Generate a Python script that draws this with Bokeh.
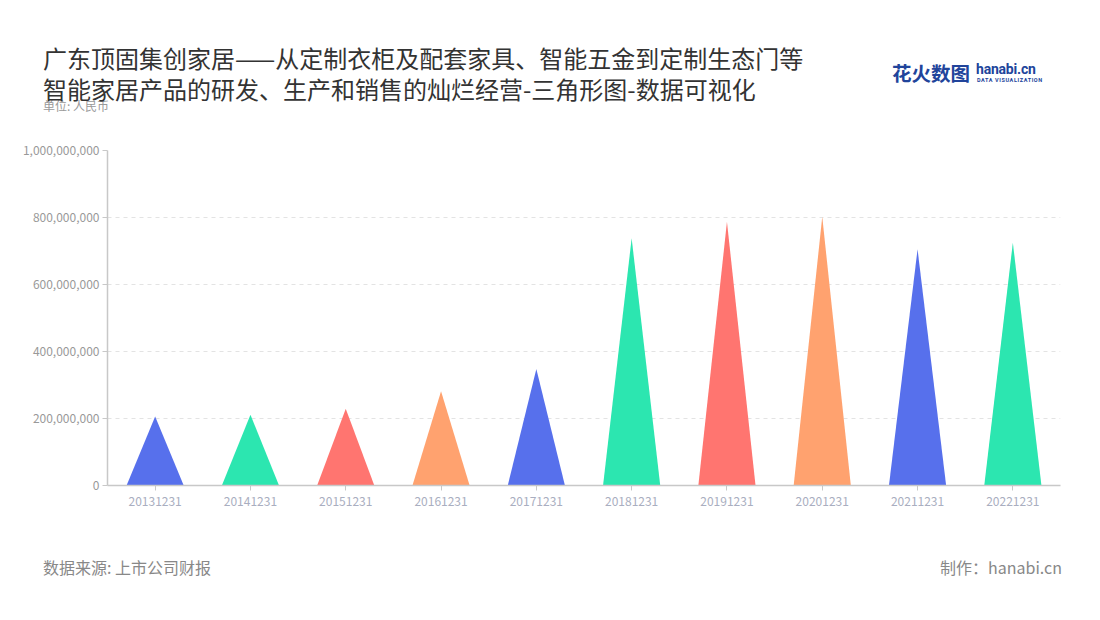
from bokeh.plotting import figure
from bokeh.models import (NumeralTickFormatter, FixedTicker, ColumnDataSource,
                          Range1d, Div)
from bokeh.layouts import column
from bokeh.embed import file_html
from bokeh.resources import INLINE

# report dates and revenue (RMB)
dates = ["20131231", "20141231", "20151231", "20161231", "20171231",
         "20181231", "20191231", "20201231", "20211231", "20221231"]
revenue = [206000000, 211000000, 229000000, 281000000, 348000000,
           738000000, 787000000, 802000000, 705000000, 725000000]
y_ticks = [0, 200000000, 400000000, 600000000, 800000000, 1000000000]
palette = ["#5770ec", "#2ce6b0", "#ff7570", "#ffa26f"]

title_1 = "广东顶固集创家居——从定制衣柜及配套家具、智能五金到定制生态门等"
title_2 = "智能家居产品的研发、生产和销售的灿烂经营-三角形图-数据可视化"
unit_txt = "单位: 人民币"
source_txt = "数据来源: 上市公司财报"
credit_txt = "制作：hanabi.cn"

CJK = "Noto Sans CJK SC"
W = 1084
TOP_H = 140
half = 0.3  # half width of a triangle base, in category units

xs, ys, cols = [], [], []
for i, v in enumerate(revenue):
    c = i + 0.5
    xs.append([c - half, c, c + half])
    ys.append([0, v, 0])
    cols.append(palette[i % len(palette)])
src = ColumnDataSource(dict(xs=xs, ys=ys, color=cols))

p = figure(width=W, height=375, output_backend="svg", toolbar_location=None,
           x_range=Range1d(0, len(dates)), y_range=Range1d(0, y_ticks[-1]),
           min_border_left=107, min_border_right=24,
           min_border_top=10, min_border_bottom=30, margin=0)
p.outline_line_color = None

p.patches("xs", "ys", fill_color="color", line_color=None, source=src)

# x axis
p.xaxis.ticker = FixedTicker(ticks=[i + 0.5 for i in range(len(dates))])
p.xaxis.major_label_overrides = {i + 0.5: d for i, d in enumerate(dates)}
p.xaxis.axis_line_color = "#c8c8c8"
p.xaxis.axis_line_width = 1.5
p.xaxis.major_tick_line_color = "#c8c8c8"
p.xaxis.major_tick_in = 0
p.xaxis.major_tick_out = 5
p.xaxis.minor_tick_line_color = None
p.xaxis.major_label_text_color = "#a9aec0"
p.xaxis.major_label_text_font = CJK
p.xaxis.major_label_text_font_size = "12px"
p.xaxis.major_label_standoff = 6

# y axis
p.yaxis.ticker = FixedTicker(ticks=y_ticks)
p.yaxis.formatter = NumeralTickFormatter(format="0,0")
p.yaxis.axis_line_color = "#c8c8c8"
p.yaxis.axis_line_width = 1.5
p.yaxis.major_tick_line_color = "#c8c8c8"
p.yaxis.major_tick_in = 0
p.yaxis.major_tick_out = 5
p.yaxis.minor_tick_line_color = None
p.yaxis.major_label_text_color = "#999999"
p.yaxis.major_label_text_font = CJK
p.yaxis.major_label_text_font_size = "12px"
p.yaxis.major_label_standoff = 3

p.xgrid.grid_line_color = None
p.ygrid.grid_line_color = "#e3e3e3"
p.ygrid.grid_line_dash = "4 4"
p.ygrid.grid_line_width = 1.2


def span(text, left, cy, size, color, lh=None, extra="", right=None):
    # absolutely placed text, cy = vertical centre of the first line in px
    lh = lh or int(size * 1.4)
    pos = f"left:{left}px;" if right is None else f"right:{right}px;"
    return (f'<div style="position:absolute;{pos}top:{cy - lh / 2}px;'
            f'font-size:{size}px;line-height:{lh}px;color:{color};'
            f'white-space:nowrap;{extra}">{text}</div>')


top_html = (
    f'<div style="position:relative;width:{W}px;height:{TOP_H}px;'
    f"font-family:'{CJK}';\">"
    + span(unit_txt, 43, 106, 12, "#999999", lh=14)
    + span(title_1 + "<br>" + title_2, 43, 57, 24, "#333333", lh=31)
    + span("花火数图", 892, 72, 19.5, "#21449b", extra="font-weight:bold;")
    + span("hanabi.cn", 976, 69, 14, "#21449b", lh=16,
           extra="font-weight:bold;font-family:Roboto;letter-spacing:-0.2px;")
    + span("DATA VISUALIZATION", 977, 80, 5.5, "#21449b", lh=6,
           extra="font-family:Roboto;letter-spacing:0.6px;font-weight:bold;")
    + "</div>"
)
top = Div(text=top_html, width=W, height=TOP_H, margin=0)

BOT_Y = TOP_H + 375
bot_html = (
    f'<div style="position:relative;width:{W}px;height:70px;'
    f"font-family:'{CJK}';\">"
    + span(source_txt, 43, 567 - BOT_Y, 16, "#888888")
    + span(credit_txt, 0, 567 - BOT_Y, 16, "#888888", right=W - 1062)
    + "</div>"
)
bottom = Div(text=bot_html, width=W, height=70, margin=0)

layout = column(top, p, bottom, spacing=0, margin=0)

open("out.html", "w").write(file_html(layout, INLINE))
